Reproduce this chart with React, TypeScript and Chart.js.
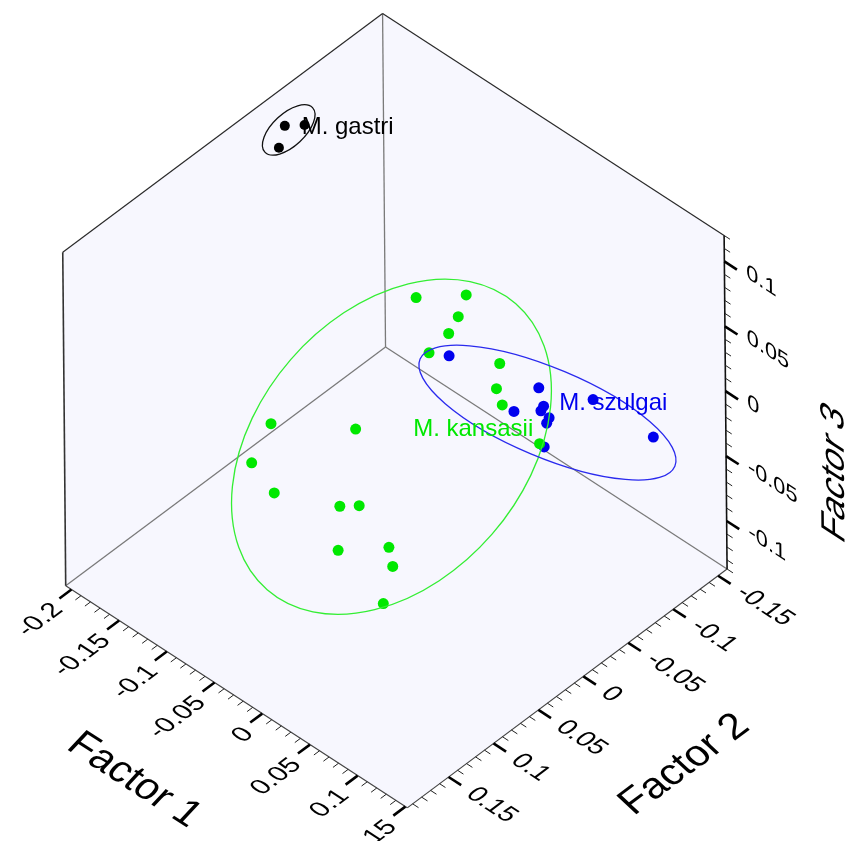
import React, { useEffect, useRef } from 'react';
import { Chart, registerables } from 'chart.js';

Chart.register(...registerables);

// ---------- axis ranges & ticks ----------
const factor1Range = [-0.206, 0.152];
const factor2Range = [-0.16, 0.196];
const factor3Range = [-0.137, 0.12];

const factor1Ticks = [-0.2, -0.15, -0.1, -0.05, 0, 0.05, 0.1, 0.15];
const factor1TickLabels = ['-0.2', '-0.15', '-0.1', '-0.05', '0', '0.05', '0.1', '0.15'];
const factor2Ticks = [-0.15, -0.1, -0.05, 0, 0.05, 0.1, 0.15];
const factor2TickLabels = ['-0.15', '-0.1', '-0.05', '0', '0.05', '0.1', '0.15'];
const factor3Ticks = [-0.1, -0.05, 0, 0.05, 0.1];
const factor3TickLabels = ['-0.1', '-0.05', '0', '0.05', '0.1'];
const minorTickStep = 0.01;

const axisTitles = ['Factor 1', 'Factor 2', 'Factor 3'];

// ---------- data ----------
const groupNames = ['M. kansasii', 'M. szulgai', 'M. gastri'];

const kansasiiF1 = [-0.0524, -0.0361, -0.0341, -0.0268, -0.0331, 0.0047, 0.012, 0.0274, 0.0676, -0.0587, -0.017, -0.0598, -0.0343, 0.0026, 0.013, 0.0249, 0.0511, 0.0578, 0.0706];
const kansasiiF2 = [-0.0332, -0.0715, -0.0604, -0.042, -0.0267, -0.0651, -0.0536, -0.0437, -0.0424, 0.1219, 0.0721, 0.1425, 0.1446, 0.1109, 0.1004, 0.1366, 0.1079, 0.1109, 0.1351];
const kansasiiF3 = [0.04, 0.03, 0.02, 0.02, 0.01, 0.0, -0.01, -0.01, -0.02, 0.02, 0.01, 0.0, -0.01, -0.02, -0.02, -0.03, -0.03, -0.04, -0.05];

const szulgaiF1 = [-0.0196, 0.0448, 0.0388, 0.0515, 0.0437, 0.0535, 0.0464, 0.0628, 0.0841, 0.1264];
const szulgaiF2 = [-0.0347, -0.066, -0.0446, -0.0641, -0.0693, -0.068, -0.0727, -0.0525, -0.0847, -0.1066];
const szulgaiF3 = [0.01, 0.0, -0.01, -0.01, -0.02, -0.02, -0.03, -0.03, 0.0, -0.02];

const gastriF1 = [-0.196, -0.1954, -0.1927];
const gastriF2 = [-0.0403, -0.0615, -0.0301];
const gastriF3 = [0.1, 0.09, 0.09];

// group ellipses: centre in factor space, semi-axes (projected plane units) and tilt
const ellipseCenterF1 = [0.0065, 0.0683, -0.2006];
const ellipseCenterF2 = [0.0573, -0.0507, -0.0494];
const ellipseCenterF3 = [0.0, 0.0, 0.09];
const ellipseSemiMajor = [192, 140, 33];
const ellipseSemiMinor = [135, 45, 16.5];
const ellipseAngleDeg = [-49, 22.8, -43];

// ---------- styling / view ----------
const groupColors = ['#00e800', '#0000ee', '#000000'];
const ellipseColors = ['#33ee33', '#2a2aee', '#111111'];
const FONT = '"Liberation Sans", Arial, Helvetica, sans-serif';

// oblique view: back-bottom corner + edge vectors (projected plane units)
const VIEW = { ox: 385, oy: 346, e1: [346, 225], e2: [-324, 242], e3: [-3, -338] };
const PLANE_W = 854;
const PLANE_H = 841;

function project(f1: number, f2: number, f3: number) {
  const n1 = (f1 - factor1Range[0]) / (factor1Range[1] - factor1Range[0]);
  const n2 = (f2 - factor2Range[0]) / (factor2Range[1] - factor2Range[0]);
  const n3 = (f3 - factor3Range[0]) / (factor3Range[1] - factor3Range[0]);
  return {
    x: VIEW.ox + n1 * VIEW.e1[0] + n2 * VIEW.e2[0] + n3 * VIEW.e3[0],
    y: VIEW.oy + n1 * VIEW.e1[1] + n2 * VIEW.e2[1] + n3 * VIEW.e3[1],
  };
}

function toPoints(a: number[], b: number[], c: number[]) {
  return a.map((v, i) => project(v, b[i], c[i]));
}

type V = [number, number];
const norm = (v: V): V => {
  const l = Math.hypot(v[0], v[1]);
  return [v[0] / l, v[1] / l];
};
const sc = (v: V, k: number): V => [v[0] * k, v[1] * k];

function text3d(
  ctx: CanvasRenderingContext2D,
  str: string,
  x: number,
  y: number,
  b: V,
  u: V,
  size: number,
  align: CanvasTextAlign,
  baseline: CanvasTextBaseline,
  color: string
) {
  ctx.save();
  ctx.translate(x, y);
  ctx.transform(b[0], b[1], -u[0], -u[1], 0, 0);
  ctx.font = `${size}px ${FONT}`;
  ctx.textAlign = align;
  ctx.textBaseline = baseline;
  ctx.fillStyle = color;
  ctx.fillText(str, 0, 0);
  ctx.restore();
}

const box3dPlugin = {
  id: 'box3d',
  beforeDatasetsDraw(chart: any) {
    const ctx: CanvasRenderingContext2D = chart.ctx;
    const sx = chart.scales.x;
    const sy = chart.scales.y;
    const P = (f1: number, f2: number, f3: number): V => {
      const p = project(f1, f2, f3);
      return [sx.getPixelForValue(p.x), sy.getPixelForValue(p.y)];
    };
    const [a1, b1] = factor1Range;
    const [a2, b2] = factor2Range;
    const [a3, b3] = factor3Range;
    const backBottom = P(a1, a2, a3);
    const leftBottom = P(a1, b2, a3);
    const front = P(b1, b2, a3);
    const rightBottom = P(b1, a2, a3);
    const topBack = P(a1, a2, b3);
    const leftTop = P(a1, b2, b3);
    const rightTop = P(b1, a2, b3);

    const e1u = norm([rightBottom[0] - backBottom[0], rightBottom[1] - backBottom[1]]);
    const e2u = norm([leftBottom[0] - backBottom[0], leftBottom[1] - backBottom[1]]);
    const e3u = norm([topBack[0] - backBottom[0], topBack[1] - backBottom[1]]);
    const len1 = Math.hypot(rightBottom[0] - backBottom[0], rightBottom[1] - backBottom[1]);
    const len3 = Math.hypot(topBack[0] - backBottom[0], topBack[1] - backBottom[1]);
    const k3 = len3 / len1;

    ctx.save();
    // walls + floor
    ctx.beginPath();
    [topBack, rightTop, rightBottom, front, leftBottom, leftTop].forEach((p, i) =>
      i ? ctx.lineTo(p[0], p[1]) : ctx.moveTo(p[0], p[1])
    );
    ctx.closePath();
    ctx.fillStyle = '#f7f7fe';
    ctx.fill();

    const line = (p: V, q: V, color: string, w: number) => {
      ctx.beginPath();
      ctx.moveTo(p[0], p[1]);
      ctx.lineTo(q[0], q[1]);
      ctx.strokeStyle = color;
      ctx.lineWidth = w;
      ctx.stroke();
    };
    // inner edges
    line(backBottom, topBack, '#7a7a7a', 1.3);
    line(backBottom, leftBottom, '#7a7a7a', 1.3);
    line(backBottom, rightBottom, '#7a7a7a', 1.3);
    // outer edges
    line(leftTop, topBack, '#2a2a2a', 1.2);
    line(topBack, rightTop, '#2a2a2a', 1.2);
    line(leftTop, leftBottom, '#333333', 1.6);
    // axes
    line(leftBottom, front, '#444444', 1.2);
    line(rightBottom, front, '#444444', 1.2);
    line(rightBottom, rightTop, '#111111', 1.6);

    const MAJ = 15;
    const MIN = 7;
    const tickSet = (
      range: number[],
      majors: number[],
      at: (v: number) => V,
      dir: V
    ) => {
      const i0 = Math.ceil(range[0] / minorTickStep - 1e-6);
      const i1 = Math.floor(range[1] / minorTickStep + 1e-6);
      for (let i = i0; i <= i1; i++) {
        if (i % 5 === 0) continue;
        const v = i * minorTickStep;
        const p = at(v);
        line(p, [p[0] + dir[0] * MIN, p[1] + dir[1] * MIN], '#222222', 1);
      }
      majors.forEach((v) => {
        const p = at(v);
        line(p, [p[0] + dir[0] * MAJ, p[1] + dir[1] * MAJ], '#000000', 2.6);
      });
    };

    // Factor 1 (left-front edge), ticks toward +e2
    tickSet(factor1Range, factor1Ticks, (v) => P(v, b2, a3), e2u);
    // Factor 2 (right-front edge), ticks toward +e1
    tickSet(factor2Range, factor2Ticks, (v) => P(b1, v, a3), e1u);
    // Factor 3 (right vertical edge), ticks toward +e1
    tickSet(factor3Range, factor3Ticks, (v) => P(b1, a2, v), e1u);

    const TS = 26;
    const negE1: V = [-e1u[0], -e1u[1]];
    const negE2: V = [-e2u[0], -e2u[1]];
    const e3s: V = sc(e3u, k3);

    factor1Ticks.forEach((v, i) => {
      const p = P(v, b2, a3);
      const g = MAJ + 8;
      const x = p[0] + e2u[0] * g + e1u[0] * 6;
      const y = p[1] + e2u[1] * g + e1u[1] * 6;
      text3d(ctx, factor1TickLabels[i], x, y, negE2, negE1, TS, 'right', 'middle', '#000');
    });
    factor2Ticks.forEach((v, i) => {
      const p = P(b1, v, a3);
      const g = MAJ + 11;
      text3d(ctx, factor2TickLabels[i], p[0] + e1u[0] * g, p[1] + e1u[1] * g, e1u, negE2, TS, 'left', 'middle', '#000');
    });
    factor3Ticks.forEach((v, i) => {
      const p = P(b1, a2, v);
      const g = MAJ + 11;
      text3d(ctx, factor3TickLabels[i], p[0] + e1u[0] * g, p[1] + e1u[1] * g - 4, e1u, e3s, TS, 'left', 'middle', '#000');
    });

    // axis titles (glyphs closer to upright than the raw floor shear)
    const TT = 40;
    const up1 = norm([(e1u[1] - e2u[0]) / 2, (-e1u[0] - e2u[1]) / 2]);
    const up2 = norm([(-e2u[1] - e1u[0]) / 2, (e2u[0] - e1u[1]) / 2]);
    const m1 = P((a1 + b1) / 2, b2, a3);
    text3d(ctx, axisTitles[0], m1[0] + e2u[0] * 134 + e1u[0] * 6, m1[1] + e2u[1] * 134 + e1u[1] * 6, e1u, up1, TT, 'center', 'middle', '#000');
    const m2 = P(b1, (a2 + b2) / 2, a3);
    text3d(ctx, axisTitles[1], m2[0] + e1u[0] * 140, m2[1] + e1u[1] * 140, negE2, up2, TT, 'center', 'middle', '#000');
    const m3 = P(b1, a2, (a3 + b3) / 2);
    text3d(ctx, axisTitles[2], m3[0] + e1u[0] * 130, m3[1] + e1u[1] * 130, sc(e3u, 0.9), negE1, TT, 'center', 'middle', '#000');
    ctx.restore();
  },
  afterDatasetsDraw(chart: any) {
    const ctx: CanvasRenderingContext2D = chart.ctx;
    const sx = chart.scales.x;
    const sy = chart.scales.y;
    ctx.save();
    ellipseCenterF1.forEach((f1, i) => {
      const c = project(f1, ellipseCenterF2[i], ellipseCenterF3[i]);
      const cx = sx.getPixelForValue(c.x);
      const cy = sy.getPixelForValue(c.y);
      const ra = Math.abs(sx.getPixelForValue(c.x + ellipseSemiMajor[i]) - cx);
      const rb = Math.abs(sx.getPixelForValue(c.x + ellipseSemiMinor[i]) - cx);
      ctx.beginPath();
      ctx.ellipse(cx, cy, ra, rb, (ellipseAngleDeg[i] * Math.PI) / 180, 0, Math.PI * 2);
      ctx.strokeStyle = ellipseColors[i];
      ctx.lineWidth = 1.3;
      ctx.stroke();
    });
    // group labels
    const labelAnchors = [
      [413, 436],
      [561, 410],
      [300, 130],
    ];
    ctx.font = `24px ${FONT}`;
    ctx.textAlign = 'left';
    ctx.textBaseline = 'alphabetic';
    groupNames.forEach((name, i) => {
      ctx.fillStyle = groupColors[i];
      ctx.fillText(name, sx.getPixelForValue(labelAnchors[i][0]), sy.getPixelForValue(labelAnchors[i][1]));
    });
    ctx.restore();
  },
};

export default function App() {
  const canvasRef = useRef<HTMLCanvasElement | null>(null);

  useEffect(() => {
    if (!canvasRef.current) return;
    const groups = [
      toPoints(kansasiiF1, kansasiiF2, kansasiiF3),
      toPoints(szulgaiF1, szulgaiF2, szulgaiF3),
      toPoints(gastriF1, gastriF2, gastriF3),
    ];
    const chart = new Chart(canvasRef.current, {
      type: 'scatter',
      data: {
        datasets: groups.map((pts, i) => ({
          label: groupNames[i],
          data: pts,
          backgroundColor: groupColors[i],
          borderWidth: 0,
          pointRadius: i === 2 ? 5 : 5.5,
          pointHoverRadius: 5.5,
        })),
      },
      options: {
        animation: false,
        responsive: false,
        maintainAspectRatio: false,
        devicePixelRatio: 1,
        layout: { padding: 0 },
        events: [],
        plugins: { legend: { display: false }, tooltip: { enabled: false } },
        scales: {
          x: { type: 'linear', min: 0, max: PLANE_W, display: false },
          y: { type: 'linear', min: 0, max: PLANE_H, reverse: true, display: false },
        },
      },
      plugins: [box3dPlugin],
    } as any);
    return () => chart.destroy();
  }, []);

  return (
    <div style={{ position: 'absolute', left: 0, top: 0, width: PLANE_W, height: PLANE_H, background: '#ffffff' }}>
      <canvas ref={canvasRef} width={PLANE_W} height={PLANE_H} style={{ display: 'block' }} />
    </div>
  );
}
